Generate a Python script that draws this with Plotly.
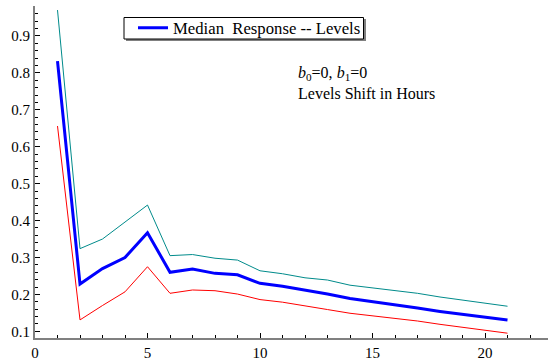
import plotly.graph_objects as go

hours = list(range(1, 22))
median = [0.832, 0.228, 0.270, 0.300, 0.367, 0.260, 0.269, 0.257, 0.253, 0.230,
          0.222, 0.212, 0.201, 0.189, 0.181, 0.173, 0.163, 0.154, 0.147, 0.139, 0.131]
upper = [0.970, 0.324, 0.350, 0.397, 0.442, 0.305, 0.308, 0.298, 0.293, 0.264,
         0.256, 0.245, 0.239, 0.225, 0.218, 0.211, 0.203, 0.193, 0.185, 0.176, 0.168]
lower = [0.656, 0.131, 0.170, 0.207, 0.275, 0.203, 0.212, 0.210, 0.201, 0.186,
         0.179, 0.168, 0.159, 0.149, 0.142, 0.136, 0.128, 0.119, 0.111, 0.102, 0.095]

font_family = "'Times New Roman', 'Liberation Serif', 'DejaVu Serif', serif"

fig = go.Figure()
fig.add_trace(go.Scatter(x=hours, y=upper, mode="lines", line=dict(color="#008b8b", width=1),
                         showlegend=False))
fig.add_trace(go.Scatter(x=hours, y=lower, mode="lines", line=dict(color="#ff0000", width=1),
                         showlegend=False))
fig.add_trace(go.Scatter(x=hours, y=median, mode="lines", line=dict(color="#0000ff", width=3),
                         name="Median  Response -- Levels"))

axis_common = dict(
    showgrid=False, zeroline=False, showline=True, linecolor="#808080", linewidth=2,
    ticks="inside", tickcolor="#000000", ticklen=5, tickwidth=1,
    tickfont=dict(family=font_family, size=15, color="#000000"),
)

fig.update_xaxes(range=[0, 22.8], tickvals=[0, 5, 10, 15, 20],
                 minor=dict(dtick=1, tick0=0, ticks="inside", ticklen=3, tickcolor="#000000"),
                 **axis_common)
fig.update_yaxes(range=[0.082, 0.981], tickvals=[0.1, 0.2, 0.3, 0.4, 0.5, 0.6, 0.7, 0.8, 0.9],
                 ticktext=["0.1", "0.2", "0.3", "0.4", "0.5", "0.6", "0.7", "0.8", "0.9"],
                 minor=dict(dtick=0.02, tick0=0, ticks="inside", ticklen=3, tickcolor="#000000"),
                 **axis_common)

# legend frame: shadow then box (pixel positions converted to paper coords)
L, T, PW, PH = 35, 6, 513, 332
def px(x):
    return (x - L) / PW
def py(y):
    return 1 - (y - T) / PH

fig.add_shape(type="rect", xref="paper", yref="paper",
              x0=px(126), x1=px(366), y0=py(41), y1=py(19),
              fillcolor="#808080", line=dict(width=0), layer="above")
fig.add_shape(type="rect", xref="paper", yref="paper",
              x0=px(124), x1=px(363.5), y0=py(39), y1=py(17.5),
              fillcolor="white", line=dict(width=1, color="#000000"), layer="above")

fig.update_layout(
    width=548, height=362,
    margin=dict(l=35, r=0, t=6, b=24),
    paper_bgcolor="white", plot_bgcolor="white",
    font=dict(family=font_family, color="#000000"),
    legend=dict(x=px(133), y=py(10.5), xanchor="left", yanchor="top",
                bgcolor="rgba(0,0,0,0)", borderwidth=0,
                font=dict(family=font_family, size=16.7, color="#000000"),
                tracegroupgap=0, itemwidth=30),
    annotations=[dict(
        xref="paper", yref="paper", x=px(296), y=py(62), xanchor="left", yanchor="top",
        align="left", showarrow=False,
        text="<i>b</i><sub>0</sub>=0, <i>b</i><sub>1</sub>=0<br>Levels Shift in Hours",
        font=dict(family=font_family, size=16, color="#000000"),
    )],
)

fig.write_html("out.html")
